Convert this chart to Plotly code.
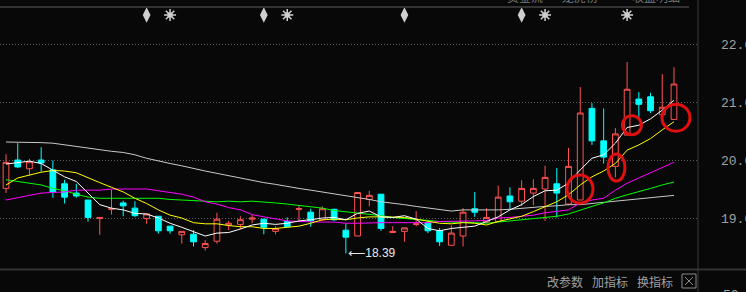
import plotly.graph_objects as go

# ---------------- data ----------------
idx = list(range(58))
open_ = [19.51, 20.00, 19.85, 20.00, 19.83, 19.59, 19.43, 19.31, 18.99, 19.15,
         19.26, 19.17, 18.99, 19.03, 18.86, 18.71, 18.72, 18.49, 18.60, 18.88,
         18.89, 18.98, 18.98, 18.77, 18.94, 19.15, 19.10, 18.97, 19.15, 18.79,
         18.69, 19.32, 19.41, 18.75, 18.77, 18.89, 18.92, 18.78, 18.53, 18.69,
         19.16, 18.93, 18.94, 19.38, 19.29, 19.43, 19.50, 19.59, 19.24, 19.31,
         20.89, 20.33, 19.89, 20.43, 21.05, 21.09, 20.78, 20.70]
high = [20.10, 20.29, 20.02, 20.22, 19.99, 19.66, 19.59, 19.31, 19.01, 19.49,
        19.30, 19.29, 19.07, 19.03, 18.86, 18.77, 18.79, 18.62, 19.09, 18.95,
        19.03, 19.06, 18.99, 18.86, 19.01, 19.21, 19.16, 19.20, 19.16, 18.91,
        19.44, 19.47, 19.41, 18.86, 18.83, 19.12, 18.97, 18.83, 18.87, 19.17,
        19.45, 19.17, 19.56, 19.53, 19.65, 19.67, 19.90, 19.86, 20.21, 21.26,
        20.98, 20.89, 20.55, 21.69, 21.17, 21.16, 21.48, 21.60]
low = [19.43, 19.86, 19.73, 19.80, 19.35, 19.25, 19.35, 18.94, 18.71, 19.06,
       19.03, 19.02, 18.90, 18.73, 18.73, 18.56, 18.51, 18.44, 18.56, 18.79,
       18.81, 18.91, 18.72, 18.72, 18.84, 18.95, 18.85, 18.95, 18.95, 18.39,
       18.69, 19.20, 18.78, 18.75, 18.59, 18.86, 18.74, 18.52, 18.53, 18.51,
       19.02, 18.91, 18.94, 19.14, 19.21, 19.22, 18.95, 19.01, 19.22, 19.31,
       20.26, 19.94, 19.70, 20.43, 20.72, 20.81, 20.69, 20.70]
close = [19.96, 19.88, 19.97, 19.95, 19.45, 19.36, 19.38, 19.01, 19.01, 19.16,
         19.21, 19.04, 19.07, 18.78, 18.78, 18.77, 18.59, 18.56, 18.98, 18.91,
         18.97, 19.00, 18.84, 18.82, 18.85, 19.16, 18.95, 19.16, 18.97, 18.67,
         19.44, 19.39, 18.82, 18.77, 18.83, 18.90, 18.78, 18.59, 18.74, 19.10,
         19.10, 19.01, 19.36, 19.28, 19.51, 19.51, 19.70, 19.43, 19.89, 20.81,
         20.33, 20.05, 20.45, 21.22, 20.96, 20.85, 20.91, 21.31]

ma5 = [19.93, 19.95, 19.98, 19.94, 19.83, 19.71, 19.63, 19.43, 19.23, 19.17,
       19.14, 19.08, 19.07, 19.00, 18.91, 18.84, 18.76, 18.69, 18.74, 18.75,
       18.81, 18.88, 18.91, 18.89, 18.91, 18.95, 18.97, 19.00, 19.01, 18.97,
       19.08, 19.12, 19.02, 19.01, 19.04, 18.98, 18.82, 18.78, 18.82, 18.84,
       18.86, 18.94, 19.02, 19.14, 19.23, 19.37, 19.47, 19.48, 19.60, 19.83,
       20.03, 20.09, 20.29, 20.56, 20.60, 20.71, 20.86, 21.03]
ma10 = [19.57, 19.69, 19.74, 19.79, 19.82, 19.81, 19.78, 19.69, 19.61, 19.53,
        19.45, 19.34, 19.25, 19.14, 19.05, 19.00, 18.92, 18.90, 18.90, 18.87,
        18.85, 18.85, 18.82, 18.82, 18.84, 18.86, 18.91, 18.97, 18.98, 18.97,
        19.00, 19.02, 19.02, 19.02, 19.01, 18.98, 18.95, 18.91, 18.90, 18.92,
        18.91, 18.88, 18.94, 18.98, 19.03, 19.11, 19.20, 19.28, 19.40, 19.57,
        19.71, 19.81, 19.94, 20.17, 20.26, 20.37, 20.52, 20.66]
ma20 = [19.31, 19.35, 19.39, 19.43, 19.44, 19.45, 19.48, 19.48, 19.48, 19.50,
        19.50, 19.50, 19.50, 19.47, 19.44, 19.41, 19.36, 19.28, 19.24, 19.18,
        19.14, 19.06, 19.02, 18.98, 18.95, 18.94, 18.93, 18.93, 18.93, 18.91,
        18.91, 18.92, 18.92, 18.92, 18.92, 18.92, 18.92, 18.94, 18.94, 18.94,
        18.95, 18.96, 19.00, 19.01, 19.03, 19.05, 19.09, 19.11, 19.14, 19.26,
        19.31, 19.34, 19.48, 19.60, 19.69, 19.77, 19.86, 19.96]
ma30 = [19.66, 19.63, 19.59, 19.57, 19.51, 19.47, 19.41, 19.36, 19.34, 19.34,
        19.34, 19.34, 19.34, 19.34, 19.32, 19.31, 19.29, 19.28, 19.28, 19.29,
        19.28, 19.29, 19.28, 19.26, 19.24, 19.22, 19.20, 19.17, 19.13, 19.11,
        19.08, 19.07, 19.04, 19.01, 18.99, 18.97, 18.95, 18.94, 18.93, 18.93,
        18.92, 18.91, 18.93, 18.95, 18.97, 18.99, 19.01, 19.03, 19.07, 19.14,
        19.20, 19.26, 19.34, 19.40, 19.45, 19.51, 19.57, 19.62]
ma60 = [20.31, 20.31, 20.31, 20.30, 20.29, 20.26, 20.23, 20.20, 20.17, 20.15,
        20.13, 20.09, 20.03, 19.98, 19.94, 19.90, 19.85, 19.81, 19.77, 19.73,
        19.68, 19.65, 19.61, 19.58, 19.54, 19.51, 19.48, 19.45, 19.41, 19.38,
        19.35, 19.32, 19.28, 19.26, 19.23, 19.20, 19.17, 19.14, 19.12, 19.14,
        19.14, 19.13, 19.14, 19.15, 19.17, 19.18, 19.20, 19.21, 19.23, 19.23,
        19.25, 19.27, 19.28, 19.30, 19.32, 19.35, 19.37, 19.39]

arrow_events = [12, 22, 34, 44]
star_events = [14, 24, 46, 53]

# hand-drawn red circles: (candle index, price)
circle_idx = [48.98, 52.09, 53.41, 57.17]
circle_price = [19.50, 19.87, 20.60, 20.73]
circle_rx = [13, 8.5, 9.5, 14]
circle_ry = [14, 13.5, 9.5, 13.5]

tick_vals = [19, 20, 21, 22]
tick_text = ["19.00", "20.00", "21.00", "22.00"]
menu_labels = ["改参数", "加指标", "换指标"]
header_labels = ["资金流", "龙虎榜", "收益明细"]

# ---------------- style ----------------
BG = "#080808"
RED = "#ff5252"
CYAN = "#00ffff"
ICON = "#cfcfcf"
W, H = 746, 292
ML, MR, MT, MB = 0, 48, 7, 23
PW, PH = W - ML - MR, H - MT - MB
X_RANGE = [-0.512, 59.05]
Y_RANGE = [18.121, 22.638]
ICON_PRICE = 22.5


def px_x(px):
    return (px - ML) / PW


def px_y(py):
    return (H - MB - py) / PH


fig = go.Figure()
fig.add_trace(go.Candlestick(
    x=idx, open=open_, high=high, low=low, close=close,
    increasing=dict(line=dict(color=RED, width=1), fillcolor=BG),
    decreasing=dict(line=dict(color=CYAN, width=1), fillcolor=CYAN),
    whiskerwidth=0, showlegend=False, hoverinfo="skip"))

for vals, col in [(ma60, "#c8c8c8"), (ma30, "#00ff00"), (ma20, "#ff00ff"),
                  (ma10, "#ffff00"), (ma5, "#ffffff")]:
    fig.add_trace(go.Scatter(x=idx, y=vals, mode="lines",
                             line=dict(color=col, width=1),
                             showlegend=False, hoverinfo="skip"))

# event icons
fig.add_trace(go.Scatter(x=arrow_events, y=[ICON_PRICE] * len(arrow_events),
                         mode="markers",
                         marker=dict(symbol="diamond-tall", size=11, color=ICON),
                         showlegend=False, hoverinfo="skip"))
fig.add_trace(go.Scatter(x=star_events, y=[ICON_PRICE] * len(star_events),
                         mode="markers",
                         marker=dict(symbol="asterisk-open", size=10, color=ICON,
                                     line=dict(color=ICON, width=1.5)),
                         showlegend=False, hoverinfo="skip"))
fig.add_trace(go.Scatter(x=star_events, y=[ICON_PRICE] * len(star_events),
                         mode="markers",
                         marker=dict(symbol="square", size=5, color=ICON),
                         showlegend=False, hoverinfo="skip"))

shapes = []
for cx, cy, rx, ry in zip(circle_idx, circle_price, circle_rx, circle_ry):
    shapes.append(dict(type="circle", xref="x", yref="y",
                       xsizemode="pixel", ysizemode="pixel",
                       xanchor=cx, yanchor=cy,
                       x0=-rx, x1=rx, y0=-ry, y1=ry,
                       line=dict(color="#e01010", width=3)))

# frame lines
shapes.append(dict(type="line", xref="paper", yref="paper",
                   x0=px_x(0), x1=px_x(689), y0=px_y(7), y1=px_y(7),
                   line=dict(color="#333333", width=2)))
shapes.append(dict(type="line", xref="paper", yref="paper",
                   x0=px_x(0), x1=px_x(746), y0=px_y(269.5), y1=px_y(269.5),
                   line=dict(color="#333333", width=2)))
shapes.append(dict(type="line", xref="paper", yref="paper",
                   x0=px_x(698), x1=px_x(698), y0=px_y(292), y1=px_y(0),
                   line=dict(color="#3a3a3a", width=1)))
# close box
shapes.append(dict(type="rect", xref="paper", yref="paper",
                   x0=px_x(682), x1=px_x(696), y0=px_y(288), y1=px_y(274),
                   line=dict(color="#8a8a8a", width=1)))
shapes.append(dict(type="line", xref="paper", yref="paper",
                   x0=px_x(685), x1=px_x(693), y0=px_y(277), y1=px_y(285),
                   line=dict(color="#8a8a8a", width=1)))
shapes.append(dict(type="line", xref="paper", yref="paper",
                   x0=px_x(693), x1=px_x(685), y0=px_y(277), y1=px_y(285),
                   line=dict(color="#8a8a8a", width=1)))

annotations = []
low_i = min(idx, key=lambda i: low[i])
annotations.append(dict(x=low_i, y=low[low_i], xref="x", yref="y",
                        text="⟵" + f"{low[low_i]:.2f}", showarrow=False,
                        xanchor="left", yanchor="middle", xshift=0,
                        font=dict(family="Liberation Sans, DejaVu Sans", size=12,
                                  color="#e8e8e8")))
for lab, cxp in zip(menu_labels, [564.5, 609.5, 655]):
    annotations.append(dict(x=px_x(cxp), y=px_y(281), xref="paper", yref="paper",
                            text=lab, showarrow=False, xanchor="center", yanchor="middle",
                            font=dict(family="Noto Sans CJK SC", size=12, color="#a0a0a0")))
for lab, cxp in zip(header_labels, [525, 580, 656]):
    annotations.append(dict(x=px_x(cxp), y=px_y(-3.5), xref="paper", yref="paper",
                            text=lab, showarrow=False, xanchor="center", yanchor="middle",
                            font=dict(family="Noto Sans CJK SC", size=12, color="#7a7a7a")))
annotations.append(dict(x=px_x(721), y=px_y(286), xref="paper", yref="paper",
                        text="50.00", showarrow=False, xanchor="left", yanchor="top",
                        font=dict(family="Liberation Mono", size=13, color="#a0a0a0")))

fig.update_layout(
    width=W, height=H, autosize=False,
    margin=dict(l=ML, r=MR, t=MT, b=MB, pad=0, autoexpand=False),
    paper_bgcolor=BG, plot_bgcolor=BG,
    hovermode=False, showlegend=False,
    shapes=shapes, annotations=annotations,
    xaxis=dict(range=X_RANGE, showgrid=False, zeroline=False, showline=False,
               showticklabels=False, ticks="", rangeslider=dict(visible=False),
               fixedrange=True, automargin=False),
    yaxis=dict(range=Y_RANGE, side="right", tickvals=tick_vals, ticktext=tick_text,
               showgrid=True, gridcolor="#5e5e5e", gridwidth=1, griddash="1px,2px",
               zeroline=False, showline=False, ticks="",
               ticklabelstandoff=22, automargin=False,
               tickfont=dict(family="Liberation Mono", size=13, color="#a0a0a0"),
               fixedrange=True),
)

fig.write_html("out.html", config={"displayModeBar": False})
